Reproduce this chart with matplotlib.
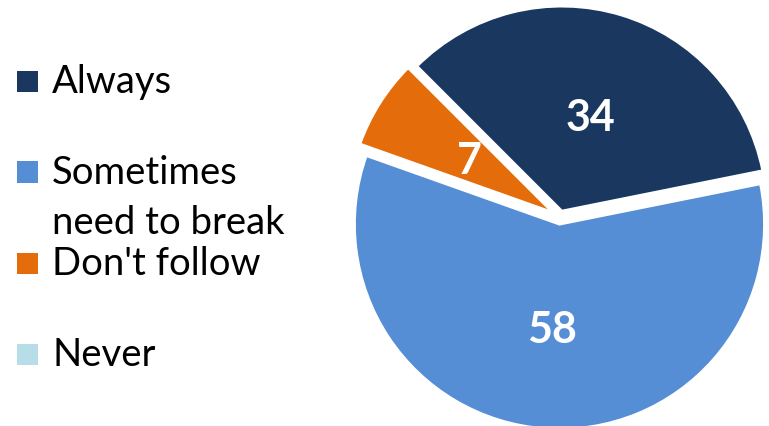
"""Pie chart of how often rules are followed, with a hand-placed legend on the left."""
import matplotlib
matplotlib.use("Agg")
import numpy as np
import matplotlib.pyplot as plt
from matplotlib.patches import Rectangle

categories = ["Always", "Sometimes\nneed to break", "Don't follow", "Never"]
values = [34, 58, 7, 0]
colors = ["#1A3760", "#558ED5", "#E46C0A", "#B7DDE8"]

W, H = 769, 427
plt.rcParams["font.family"] = ["Lato", "DejaVu Sans"]

fig = plt.figure(figsize=(W / 100, H / 100), dpi=100)

# pie axes: centre (560, 218) px, radius about 205 px
cx, cy, half = 560, 218, 210
ax = fig.add_axes([(cx - half) / W, 1 - (cy + half) / H, 2 * half / W, 2 * half / H])
wedges, _ = ax.pie(values, colors=colors, startangle=135, counterclock=False,
                   explode=[0.03, 0.035, 0.04, 0.0],
                   wedgeprops=dict(edgecolor="white", linewidth=2))
lim = half / 205
ax.set_xlim(-lim, lim)
ax.set_ylim(-lim, lim)
ax.set_aspect("equal")
ax.axis("off")

# value labels inside the slices (distance from pie centre, in radii)
label_r = [0.51, 0.55, 0.52, 0.6]
start = 135
total = sum(values)
for v, r in zip(values, label_r):
    mid = start - v / total * 180
    start -= v / total * 360
    if v == 0:
        continue
    ang = np.deg2rad(mid)
    ax.text(r * np.cos(ang), r * np.sin(ang), str(v), color="white",
            fontsize=31, fontweight="bold", ha="center", va="center")

# legend drawn by hand so the wrapped label keeps its square on the first line
row_y0, row_step, line_step = 82, 91, 50
for i, (name, col) in enumerate(zip(categories, colors)):
    y = row_y0 + i * row_step
    fig.add_artist(Rectangle((17 / W, 1 - (y + 10.5) / H), 21 / W, 21 / H,
                             transform=fig.transFigure, facecolor=col, edgecolor="none"))
    for j, line in enumerate(name.split("\n")):
        fig.text(52 / W, 1 - (y + j * line_step) / H, line, fontsize=27.5,
                 color="black", ha="left", va="center")

fig.savefig("out.png", dpi=100)
